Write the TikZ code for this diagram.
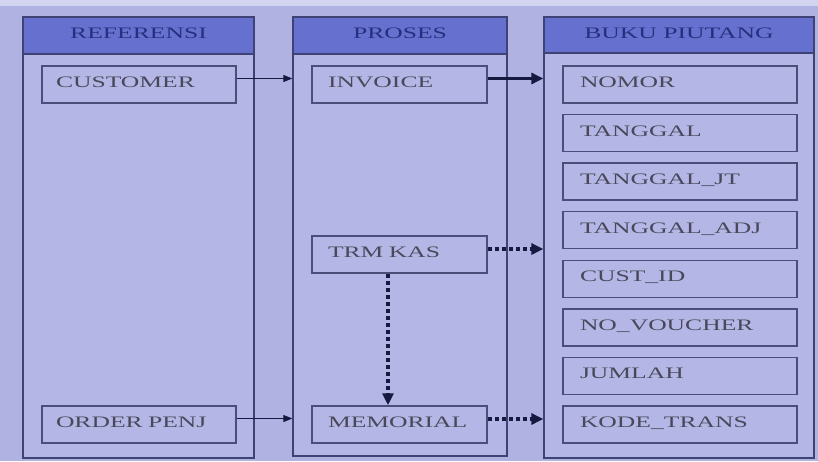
\documentclass[tikz,border=0pt]{standalone}
\usepackage{fontspec}
\usetikzlibrary{arrows.meta}
\newfontfamily\wideserif[FakeStretch=1.6]{Liberation Serif}
\definecolor{pagebg}{HTML}{B0B3E1}
\definecolor{pagetop}{HTML}{D2D4F0}
\definecolor{colfill}{HTML}{B4B7E6}
\definecolor{headfill}{HTML}{6670CF}
\definecolor{frameline}{HTML}{3E4274}
\definecolor{boxline}{HTML}{4A4E78}
\definecolor{headtext}{HTML}{27307E}
\definecolor{boxtext}{HTML}{48485A}
\definecolor{arrowcol}{HTML}{161A40}
\tikzset{
  colbody/.style={draw=frameline, line width=1.3pt, fill=colfill, rectangle, inner sep=0pt},
  colhead/.style={draw=frameline, line width=1.3pt, fill=headfill, rectangle, inner sep=0pt,
    minimum height=37pt, text height=10.5pt, text depth=4.5pt,
    font=\wideserif\fontsize{16}{16}\selectfont, text=headtext},
  field/.style={draw=boxline, line width=1.5pt, rectangle, inner xsep=0pt, inner ysep=0pt,
    minimum height=37pt, text height=10.5pt, text depth=4.5pt,
    font=\wideserif\fontsize{16}{16}\selectfont, text=boxtext, align=left},
  thinarrow/.style={draw=arrowcol, line width=0.9pt, -{Triangle[length=9pt,width=7pt]}},
  thickarrow/.style={draw=arrowcol, line width=3pt, -{Triangle[length=12pt,width=11pt]}},
  dotarrow/.style={draw=arrowcol, line width=3.4pt, dash pattern=on 4pt off 3pt,
    -{Triangle[length=12pt,width=11pt]}},
}
\begin{document}
\begin{tikzpicture}[x=1pt,y=-1pt]
  % page background
  \fill[pagebg] (0,0) rectangle (818,461);
  \fill[pagetop] (0,0) rectangle (818,6);
  \useasboundingbox (0,0) rectangle (818,461);

  % three columns with their headers
  \node[colbody, minimum width=231pt, minimum height=441pt] (refcol) at (138.5,237.5) {};
  \node[colbody, minimum width=214pt, minimum height=439pt] (procol) at (400,236.5) {};
  \node[colbody, minimum width=270pt, minimum height=441pt] (bukucol) at (679,237.5) {};
  \node[colhead, minimum width=231pt] (refhead) at (138.5,35.5) {REFERENSI};
  \node[colhead, minimum width=214pt] (prohead) at (400,35.5) {PROSES};
  \node[colhead, minimum width=270pt, minimum height=36pt] (bukuhead) at (679,35) {BUKU PIUTANG};

  % reference column
  \node[field, minimum width=194pt, text width=166pt] (customer) at (139,84.5) {CUSTOMER};
  \node[field, minimum width=194pt, text width=166pt] (orderpenj) at (139,424.5) {ORDER PENJ};

  % process column
  \node[field, minimum width=175pt, text width=143pt] (invoice) at (399.5,84.5) {INVOICE};
  \node[field, minimum width=175pt, text width=143pt] (trmkas) at (399.5,254.5) {TRM KAS};
  \node[field, minimum width=175pt, text width=143pt] (memorial) at (399.5,424.5) {MEMORIAL};

  % ledger fields
  \foreach \name/\lbl [count=\i from 0] in {nomor/NOMOR, tanggal/TANGGAL, tanggaljt/TANGGAL\_JT,
      tanggaladj/TANGGAL\_ADJ, custid/CUST\_ID, novoucher/NO\_VOUCHER, jumlah/JUMLAH,
      kodetrans/KODE\_TRANS}
    \node[field, minimum width=234pt, text width=200pt] (\name) at (680,{84.5+48.57*\i}) {\lbl};

  % connectors
  \draw[thinarrow] ([yshift=6pt]customer.east) -- ([yshift=6pt]customer.east -| procol.west);
  \draw[thinarrow] ([yshift=6pt]orderpenj.east) -- ([yshift=6pt]orderpenj.east -| procol.west);
  \draw[thickarrow] ([yshift=6pt]invoice.east) -- ([yshift=6pt]invoice.east -| bukucol.west);
  \draw[dotarrow] ([yshift=5.5pt]trmkas.east) -- ([yshift=5.5pt]trmkas.east -| bukucol.west);
  \draw[dotarrow] ([yshift=5.5pt]memorial.east) -- ([yshift=5.5pt]memorial.east -| bukucol.west);
  \draw[dotarrow] ([xshift=-11.5pt]trmkas.south) -- ([xshift=-11.5pt]memorial.north);
\end{tikzpicture}
\end{document}
